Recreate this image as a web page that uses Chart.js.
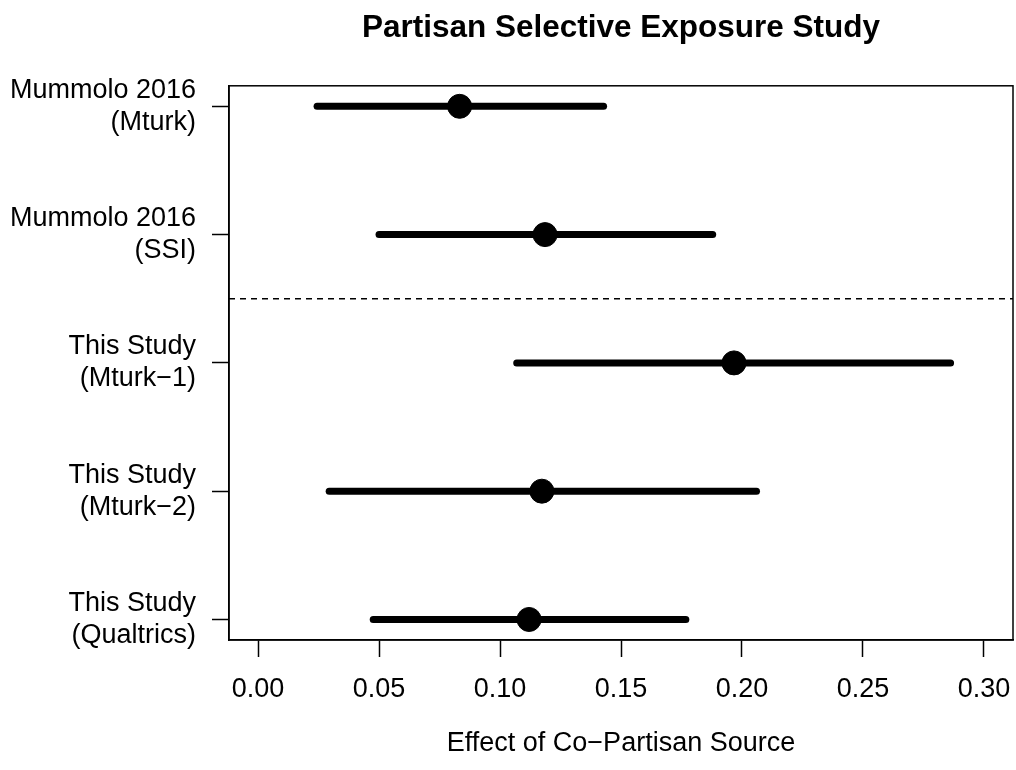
<!DOCTYPE html>
<html>
<head>
<meta charset="utf-8">
<script src="https://cdn.jsdelivr.net/npm/chart.js@4/dist/chart.umd.min.js"></script>
<style>
  html, body { margin: 0; padding: 0; background: #fff; }
</style>
</head>
<body>
<canvas id="chart" width="1016" height="770"></canvas>
<script>
// studies, top to bottom
var studies = [
    ['Mummolo 2016', '(Mturk)'],
    ['Mummolo 2016', '(SSI)'],
    ['This Study', '(Mturk\u22121)'],
    ['This Study', '(Mturk\u22122)'],
    ['This Study', '(Qualtrics)']
];
var estimates = [0.0833, 0.1186, 0.1967, 0.1173, 0.1120];
var lower = [0.0244, 0.0500, 0.1069, 0.0294, 0.0476];
var upper = [0.1428, 0.1879, 0.2862, 0.2060, 0.1768];
var xTicks = [0.00, 0.05, 0.10, 0.15, 0.20, 0.25, 0.30];
var dividerAt = 2.5;

var FONT = "'Liberation Sans', Arial, Helvetica, sans-serif";

// confidence interval segments
var datasets = [];
for (var i = 0; i < studies.length; i++) {
    datasets.push({
        type: 'line',
        data: [{ x: lower[i], y: i + 1 }, { x: upper[i], y: i + 1 }],
        borderColor: '#000',
        borderWidth: 7,
        borderCapStyle: 'round',
        pointRadius: 0,
        showLine: true
    });
}
// point estimates
datasets.push({
    type: 'scatter',
    data: estimates.map(function (v, i) { return { x: v, y: i + 1 }; }),
    backgroundColor: '#000',
    borderColor: '#000',
    pointRadius: 12,
    pointHoverRadius: 12
});

// box round the plot and the dashed divider
var framePlugin = {
    id: 'frame',
    afterDatasetsDraw: function (chart) {
        var ctx = chart.ctx;
        var a = chart.chartArea;
        var yPix = chart.scales.y.getPixelForValue(dividerAt);
        ctx.save();
        ctx.strokeStyle = '#000';
        ctx.lineWidth = 1.5;
        ctx.setLineDash([6, 5]);
        ctx.beginPath();
        ctx.moveTo(a.left, yPix);
        ctx.lineTo(a.right, yPix);
        ctx.stroke();
        ctx.setLineDash([]);
        ctx.strokeRect(a.left, a.top, a.right - a.left, a.bottom - a.top);
        ctx.restore();
    }
};

new Chart(document.getElementById('chart').getContext('2d'), {
    data: { datasets: datasets },
    options: {
        responsive: false,
        animation: false,
        devicePixelRatio: 1,
        layout: { autoPadding: false, padding: { left: 0, right: 3, top: 0, bottom: 0 } },
        plugins: {
            legend: { display: false },
            tooltip: { enabled: false },
            title: {
                display: true,
                fullSize: false,
                text: 'Partisan Selective Exposure Study',
                color: '#000',
                font: { family: FONT, size: 31.5, weight: 'bold', lineHeight: 1.2 },
                padding: { top: 9, bottom: 39 }
            }
        },
        scales: {
            x: {
                type: 'linear',
                min: -0.012,
                max: 0.312,
                afterBuildTicks: function (scale) {
                    scale.ticks = xTicks.map(function (v) { return { value: v }; });
                },
                afterFit: function (scale) {
                    scale.height = 130;
                    scale.paddingLeft = 0;
                    scale.paddingRight = 0;
                },
                grid: { drawOnChartArea: false, tickLength: 17, tickWidth: 1.5, tickColor: '#000' },
                border: { display: true, color: '#000', width: 1.5 },
                ticks: {
                    autoSkip: false,
                    maxRotation: 0,
                    padding: 16,
                    color: '#000',
                    font: { family: FONT, size: 27 },
                    callback: function (v) { return Number(v).toFixed(2); }
                },
                title: {
                    display: true,
                    text: 'Effect of Co\u2212Partisan Source',
                    color: '#000',
                    font: { family: FONT, size: 27, lineHeight: 1.2 },
                    padding: { top: 0, bottom: 10 }
                }
            },
            y: {
                type: 'linear',
                reverse: true,
                min: 0.84,
                max: 5.16,
                afterBuildTicks: function (scale) {
                    scale.ticks = studies.map(function (s, i) { return { value: i + 1 }; });
                },
                afterFit: function (scale) {
                    scale.width = 229;
                    scale.paddingTop = 0;
                    scale.paddingBottom = 0;
                },
                grid: { drawOnChartArea: false, tickLength: 17, tickWidth: 1.5, tickColor: '#000' },
                border: { display: true, color: '#000', width: 1.5 },
                ticks: {
                    autoSkip: false,
                    padding: 16,
                    color: '#000',
                    font: { family: FONT, size: 27, lineHeight: 1.18 },
                    callback: function (v) { return studies[Math.round(v) - 1]; }
                }
            }
        }
    },
    plugins: [framePlugin]
});
</script>
</body>
</html>
